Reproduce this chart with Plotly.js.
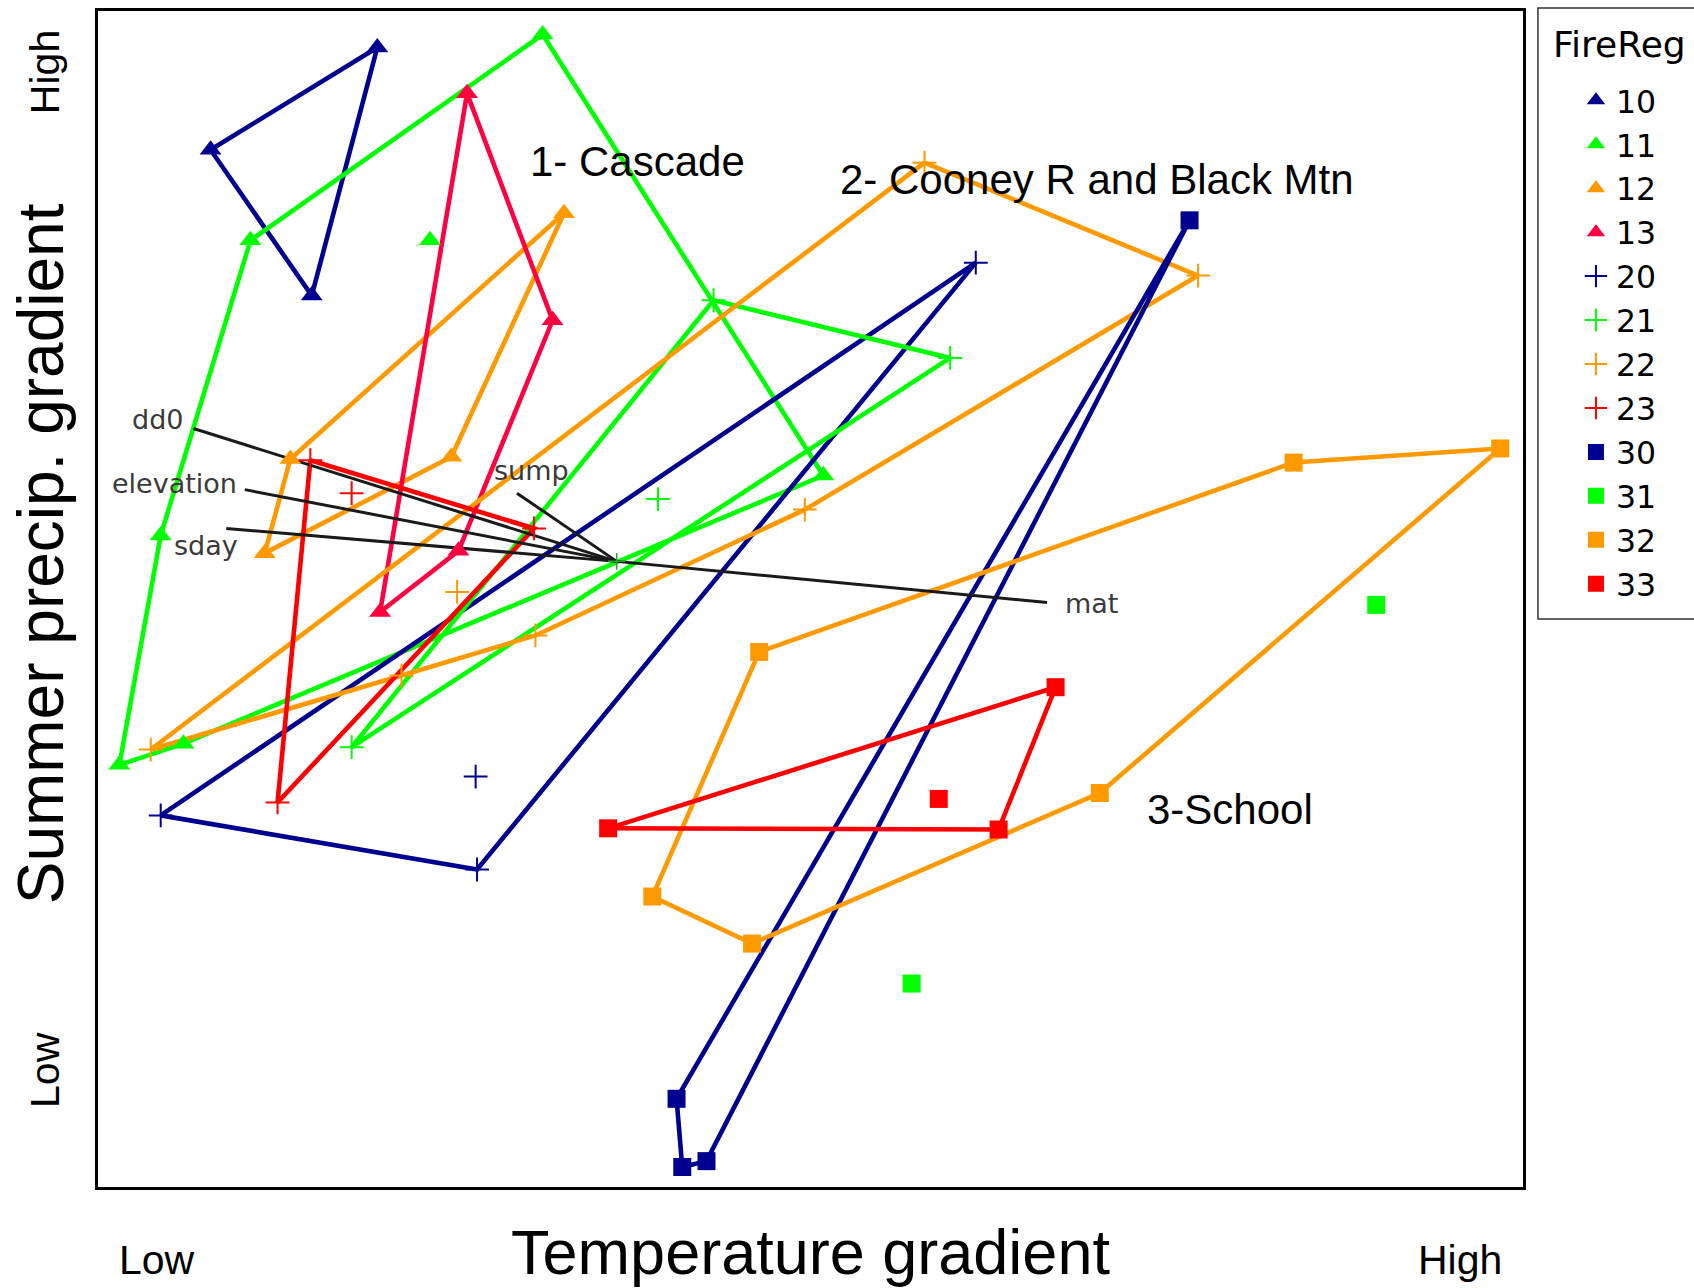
<!DOCTYPE html>
<html>
<head>
<meta charset="utf-8">
<script src="https://cdn.plot.ly/plotly-3.0.1.min.js"></script>
<style>
  html, body { margin: 0; padding: 0; background: #ffffff; }
  #chart { width: 1694px; height: 1288px; }
</style>
</head>
<body>
<div id="chart"></div>
<script>
// Ordination of sites by fire region: each region's sites are joined as a hull,
// with environmental vectors drawn from the centroid.

// Fire region 10
const fr10X = [7.9, 19.6, 15.0];
const fr10Y = [88.2, 96.9, 75.8];
// Fire region 11
const fr11X = [31.2, 50.9, 6.0, 1.5, 4.4, 10.7];
const fr11Y = [98.0, 60.5, 37.7, 35.9, 55.4, 80.5];
const fr11LoneX = [23.3];
const fr11LoneY = [80.5];
// Fire region 12
const fr12X = [32.7, 13.5, 11.7, 24.8];
const fr12Y = [82.8, 61.9, 53.9, 62.1];
// Fire region 13
const fr13X = [25.9, 31.9, 25.3, 19.8];
const fr13Y = [93.0, 73.7, 54.1, 48.9];
// Fire region 20
const fr20X = [4.4, 61.6, 26.6];
const fr20Y = [31.6, 78.6, 27.0];
const fr20LoneX = [26.5];
const fr20LoneY = [34.9];
// Fire region 21
const fr21X = [43.2, 59.8, 17.8];
const fr21Y = [75.4, 70.5, 37.4];
const fr21LoneX = [39.3];
const fr21LoneY = [58.5];
// Fire region 22
const fr22X = [58.0, 77.2, 49.6, 30.7, 21.3, 3.7];
const fr22Y = [87.1, 77.5, 57.6, 46.9, 43.5, 37.2];
const fr22LoneX = [25.2];
const fr22LoneY = [50.6];
// Fire region 23
const fr23X = [14.9, 30.6, 12.6];
const fr23Y = [61.8, 56.0, 32.7];
const fr23LoneX = [17.8];
const fr23LoneY = [59.0];
// Fire region 30
const fr30X = [76.6, 40.6, 41.0, 42.7];
const fr30Y = [82.2, 7.5, 1.7, 2.2];
// Fire region 31 (two unconnected sites)
const fr31LoneX = [89.7, 57.1];
const fr31LoneY = [49.5, 17.3];
// Fire region 32
const fr32X = [46.4, 83.9, 98.4, 70.3, 45.9, 38.9];
const fr32Y = [45.5, 61.6, 62.8, 33.5, 20.7, 24.7];
// Fire region 33
const fr33X = [35.8, 67.2, 63.2];
const fr33Y = [30.5, 42.5, 30.4];
const fr33LoneX = [59.0];
const fr33LoneY = [33.0];

// Environmental vectors (from the centroid)
const vecNames = ['dd0', 'elevation', 'sday', 'sump', 'mat'];
const vecX = [6.7, 10.3, 9.0, 29.4, 66.6];
const vecY = [64.5, 59.3, 56.0, 59.0, 49.7];
const centroidX = [36.4];
const centroidY = [53.2];

// Region group labels
const regionNames = ['1- Cascade', '2- Cooney R and Black Mtn', '3-School'];
const regionX = [30.2, 51.9, 73.5];
const regionY = [87.2, 85.7, 32.1];

// Axis wording
const gradientEnds = ['Low', 'High'];
const xTitle = 'Temperature gradient';
const yTitle = 'Summer precip. gradient';
const legendTitle = 'FireReg';

const NAVY = '#000090', GREEN = '#00ff00', ORANGE = '#ff9900',
      CRIMSON = '#ff0040', RED = '#ff0000';

const groups = [
  {name: '10', x: fr10X, y: fr10Y, lx: [], ly: [], sym: 'triangle-up', color: NAVY},
  {name: '11', x: fr11X, y: fr11Y, lx: fr11LoneX, ly: fr11LoneY, sym: 'triangle-up', color: GREEN},
  {name: '12', x: fr12X, y: fr12Y, lx: [], ly: [], sym: 'triangle-up', color: ORANGE},
  {name: '13', x: fr13X, y: fr13Y, lx: [], ly: [], sym: 'triangle-up', color: CRIMSON},
  {name: '20', x: fr20X, y: fr20Y, lx: fr20LoneX, ly: fr20LoneY, sym: 'cross-thin-open', color: NAVY},
  {name: '21', x: fr21X, y: fr21Y, lx: fr21LoneX, ly: fr21LoneY, sym: 'cross-thin-open', color: GREEN},
  {name: '22', x: fr22X, y: fr22Y, lx: fr22LoneX, ly: fr22LoneY, sym: 'cross-thin-open', color: ORANGE},
  {name: '23', x: fr23X, y: fr23Y, lx: fr23LoneX, ly: fr23LoneY, sym: 'cross-thin-open', color: RED},
  {name: '30', x: fr30X, y: fr30Y, lx: [], ly: [], sym: 'square', color: NAVY},
  {name: '31', x: [], y: [], lx: fr31LoneX, ly: fr31LoneY, sym: 'square', color: GREEN},
  {name: '32', x: fr32X, y: fr32Y, lx: [], ly: [], sym: 'square', color: ORANGE},
  {name: '33', x: fr33X, y: fr33Y, lx: fr33LoneX, ly: fr33LoneY, sym: 'square', color: RED}
];

const traces = [];

// Hull outlines
groups.forEach(g => {
  if (g.x.length < 2) return;
  traces.push({
    type: 'scatter', mode: 'lines',
    x: g.x.concat([g.x[0]]), y: g.y.concat([g.y[0]]),
    line: {color: g.color, width: 4.6},
    hoverinfo: 'skip', showlegend: false
  });
});

// Environmental vectors
const vx = [], vy = [];
vecX.forEach((x, i) => { vx.push(centroidX[0], x, null); vy.push(centroidY[0], vecY[i], null); });
traces.push({
  type: 'scatter', mode: 'lines', x: vx, y: vy,
  line: {color: '#1a1a1a', width: 3}, hoverinfo: 'skip', showlegend: false
});
traces.push({
  type: 'scatter', mode: 'markers', x: centroidX, y: centroidY,
  marker: {symbol: 'cross-thin-open', size: 12, line: {color: '#1a1a1a', width: 1.5}},
  hoverinfo: 'skip', showlegend: false
});

// Site markers (these also make the legend)
groups.forEach(g => {
  const isCross = g.sym.indexOf('cross') === 0;
  const size = g.sym === 'square' ? 18 : (isCross ? 17 : 19);
  traces.push({
    type: 'scatter', mode: 'markers', name: g.name,
    x: g.x.concat(g.lx), y: g.y.concat(g.ly),
    marker: isCross
      ? {symbol: g.sym, size: size, color: g.color, line: {color: g.color, width: 2}}
      : {symbol: g.sym, size: size, color: g.color, line: {width: 0}}
  });
});

const annotations = [];
const bodyFont = 'Arial, "Liberation Sans", sans-serif';
const wideFont = '"DejaVu Sans", sans-serif';

// Vector labels
const vecLabelPos = {
  'dd0':       {xanchor: 'right',  xshift: -8,  yshift: 9},
  'elevation': {xanchor: 'right',  xshift: -6,  yshift: 6},
  'sday':      {xanchor: 'center', xshift: -20, yshift: -17},
  'sump':      {xanchor: 'center', xshift: 15,  yshift: 23},
  'mat':       {xanchor: 'left',   xshift: 16,  yshift: -1}
};
vecNames.forEach((n, i) => {
  const p = vecLabelPos[n];
  annotations.push({
    x: vecX[i], y: vecY[i], xref: 'x', yref: 'y', text: n, showarrow: false,
    xanchor: p.xanchor, yanchor: 'middle', xshift: p.xshift, yshift: p.yshift,
    font: {family: wideFont, size: 27, color: '#3a3a3a'}
  });
});

// Region labels
regionNames.forEach((n, i) => {
  annotations.push({
    x: regionX[i], y: regionY[i], xref: 'x', yref: 'y', text: n, showarrow: false,
    xanchor: 'left', yanchor: 'middle',
    font: {family: bodyFont, size: 42, color: '#000000'}
  });
});

// Gradient end labels and the vertical axis title
const endFont = {family: bodyFont, size: 41, color: '#000'};
annotations.push(
  {x: 0.0414, y: -0.062, xref: 'paper', yref: 'paper', text: gradientEnds[0], showarrow: false,
   xanchor: 'center', yanchor: 'middle', font: endFont},
  {x: 0.956, y: -0.062, xref: 'paper', yref: 'paper', text: gradientEnds[1], showarrow: false,
   xanchor: 'center', yanchor: 'middle', font: endFont},
  {x: -0.0372, y: 0.0995, xref: 'paper', yref: 'paper', text: gradientEnds[0], showarrow: false,
   textangle: -90, xanchor: 'center', yanchor: 'middle', font: endFont},
  {x: -0.0372, y: 0.948, xref: 'paper', yref: 'paper', text: gradientEnds[1], showarrow: false,
   textangle: -90, xanchor: 'center', yanchor: 'middle', font: endFont},
  {x: -0.040, y: 0.538, xref: 'paper', yref: 'paper', text: yTitle, showarrow: false,
   textangle: -90, xanchor: 'center', yanchor: 'middle',
   font: {family: bodyFont, size: 64, color: '#000'}},
  // legend heading
  {x: 1.0195, y: 0.9711, xref: 'paper', yref: 'paper', text: legendTitle, showarrow: false,
   xanchor: 'left', yanchor: 'middle', font: {family: wideFont, size: 36, color: '#000'}}
);

const axisBase = {
  range: [0, 100], showgrid: false, zeroline: false, showticklabels: false,
  ticks: '', showline: true, mirror: true, linewidth: 3, linecolor: '#000000',
  fixedrange: true
};

const layout = {
  width: 1694, height: 1288,
  margin: {l: 98, r: 171, t: 11, b: 101, autoexpand: false},
  paper_bgcolor: '#ffffff', plot_bgcolor: '#ffffff',
  font: {family: bodyFont, color: '#000000'},
  xaxis: Object.assign({}, axisBase, {
    title: {text: xTitle, font: {family: bodyFont, size: 63, color: '#000'}, standoff: 41}
  }),
  yaxis: Object.assign({}, axisBase),
  showlegend: true,
  legend: {
    x: 1.0105, y: 0.947, xanchor: 'left', yanchor: 'top',
    bgcolor: 'rgba(0,0,0,0)', borderwidth: 0,
    font: {family: wideFont, size: 31.5, color: '#000'},
    indentation: 38,
    traceorder: 'normal'
  },
  // legend frame (runs off the right edge of the page)
  shapes: [{
    type: 'rect', xref: 'paper', yref: 'paper',
    x0: 1.0105, x1: 1.2, y0: 0.483, y1: 1.0026,
    line: {color: '#333333', width: 1.5}, fillcolor: 'rgba(0,0,0,0)', layer: 'above'
  }],
  annotations: annotations
};

Plotly.newPlot('chart', traces, layout, {displayModeBar: false, staticPlot: true});
</script>
</body>
</html>
